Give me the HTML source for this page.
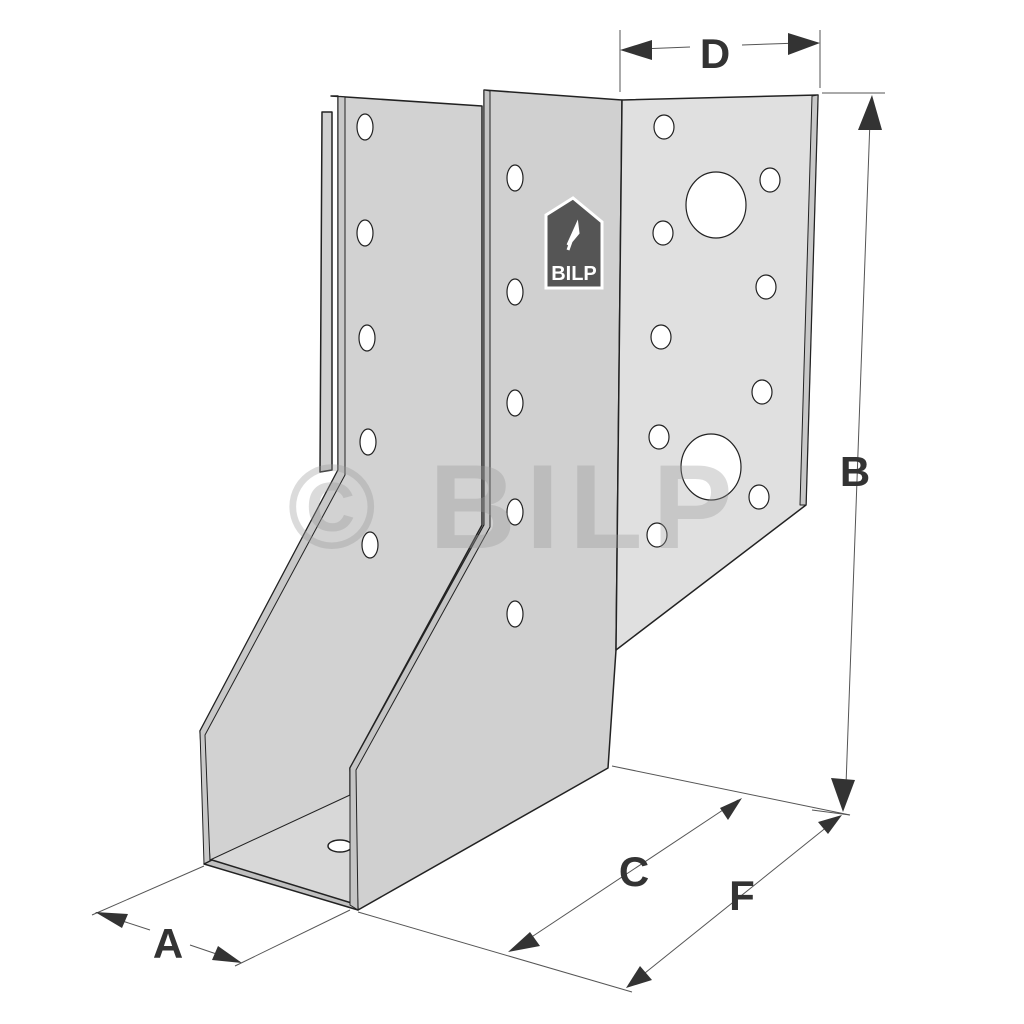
<!DOCTYPE html>
<html><head><style>html,body{margin:0;padding:0;background:#fff}svg{display:block}</style></head>
<body>
<svg width="1024" height="1024" viewBox="0 0 1024 1024" xmlns="http://www.w3.org/2000/svg">
<g stroke="#222" stroke-width="1.5" stroke-linejoin="round">
<!-- back left strip -->
<polygon points="322,112 332,112 332,470 320,472" fill="#d0d0d0"/>
<!-- left flange -->
<polygon points="331,96 482,106 482,525 350,768 350,905 210,862 200,731 338,470 338,96" fill="#d2d2d2"/>
<polygon points="331,96 338,96 338,470 200,731 204,864 210,862 205,735 345,475 345,97" fill="#c8c8c8" stroke-width="1"/>
<!-- floor -->
<polygon points="210,860 350,795 350,905" fill="#d8d8d8" stroke-width="1"/>
<ellipse cx="340" cy="846" rx="12" ry="6" fill="#fff"/>
<!-- bottom rim -->
<polygon points="204,864 358,910 358,905 212,860" fill="#c0c0c0"/>
<!-- middle panel -->
<polygon points="484,90 622,100 616,650 608,768 358,910 350,768 484,525" fill="#d0d0d0"/>
<polygon points="484,90 490,91 490,527 356,770 358,910 350,905 350,768 484,525" fill="#c4c4c4" stroke-width="1"/>
<!-- right flange -->
<polygon points="622,100 818,95 806,505 616,650" fill="#e0e0e0"/>
<polygon points="818,95 806,505 800,505 812,96" fill="#c8c8c8" stroke-width="1"/>
</g>
<!-- holes -->
<g fill="#fff" stroke="#222" stroke-width="1.2">
<ellipse cx="365" cy="127" rx="8" ry="13"/><ellipse cx="365" cy="233" rx="8" ry="13"/><ellipse cx="367" cy="338" rx="8" ry="13"/><ellipse cx="368" cy="442" rx="8" ry="13"/><ellipse cx="370" cy="545" rx="8" ry="13"/>
<ellipse cx="515" cy="178" rx="8" ry="13"/><ellipse cx="515" cy="292" rx="8" ry="13"/><ellipse cx="515" cy="403" rx="8" ry="13"/><ellipse cx="515" cy="512" rx="8" ry="13"/><ellipse cx="515" cy="614" rx="8" ry="13"/>
<ellipse cx="664" cy="127" rx="10" ry="12"/><ellipse cx="770" cy="180" rx="10" ry="12"/><ellipse cx="663" cy="233" rx="10" ry="12"/><ellipse cx="766" cy="287" rx="10" ry="12"/><ellipse cx="661" cy="337" rx="10" ry="12"/><ellipse cx="762" cy="392" rx="10" ry="12"/><ellipse cx="659" cy="437" rx="10" ry="12"/><ellipse cx="759" cy="497" rx="10" ry="12"/><ellipse cx="657" cy="535" rx="10" ry="12"/>
<ellipse cx="716" cy="205" rx="30" ry="33"/><ellipse cx="711" cy="467" rx="30" ry="33"/>
</g>
<!-- logo -->
<path d="M546,215 L573,198 L602,222 L602,288 L546,288 Z" fill="#555" stroke="#fff" stroke-width="3"/>
<path d="M568,245 L577,225 L578,233 Z M573,236 L568,250" stroke="#fff" stroke-width="3" fill="#fff"/>
<text x="574" y="280" font-family="Liberation Sans, sans-serif" font-weight="bold" font-size="20" fill="#fff" text-anchor="middle">BILP</text>
<!-- watermark -->
<text x="515" y="548" font-family="Liberation Sans, sans-serif" font-weight="bold" font-size="120" fill="#999" fill-opacity="0.35" text-anchor="middle" letter-spacing="10">© BILP</text>
<!-- dimension lines -->
<g stroke="#555" stroke-width="1" fill="none">
<line x1="620" y1="30" x2="620" y2="92"/><line x1="820" y1="30" x2="820" y2="88"/>
<line x1="640" y1="49" x2="690" y2="47"/><line x1="742" y1="45" x2="800" y2="43"/>
<line x1="822" y1="93" x2="885" y2="93"/><line x1="812" y1="810" x2="850" y2="815"/>
<line x1="870" y1="120" x2="846" y2="785"/>
<line x1="358" y1="912" x2="632" y2="992"/><line x1="612" y1="766" x2="850" y2="815"/>
<line x1="515" y1="948" x2="738" y2="800"/>
<line x1="630" y1="985" x2="838" y2="818"/>
<line x1="204" y1="866" x2="92" y2="915"/><line x1="350" y1="910" x2="235" y2="966"/>
<line x1="98" y1="913" x2="150" y2="930"/><line x1="190" y1="945" x2="240" y2="962"/>
</g>
<g fill="#333">
<polygon points="620,50 652,40 652,60"/><polygon points="820,43 788,33 788,55"/>
<polygon points="872,95 858,130 882,130"/><polygon points="843,812 831,778 855,780"/>
<polygon points="508,952 530,932 540,946"/><polygon points="742,798 720,808 728,820"/>
<polygon points="626,988 640,966 652,980"/><polygon points="842,815 818,822 828,834"/>
<polygon points="95,912 128,914 122,928"/><polygon points="242,963 212,960 218,946"/>
</g>
<g font-family="Liberation Sans, sans-serif" font-weight="bold" font-size="42" fill="#333" text-anchor="middle">
<text x="715" y="68">D</text><text x="855" y="486">B</text><text x="634" y="886">C</text><text x="742" y="910">F</text><text x="168" y="958">A</text>
</g>
</svg>
</body></html>
